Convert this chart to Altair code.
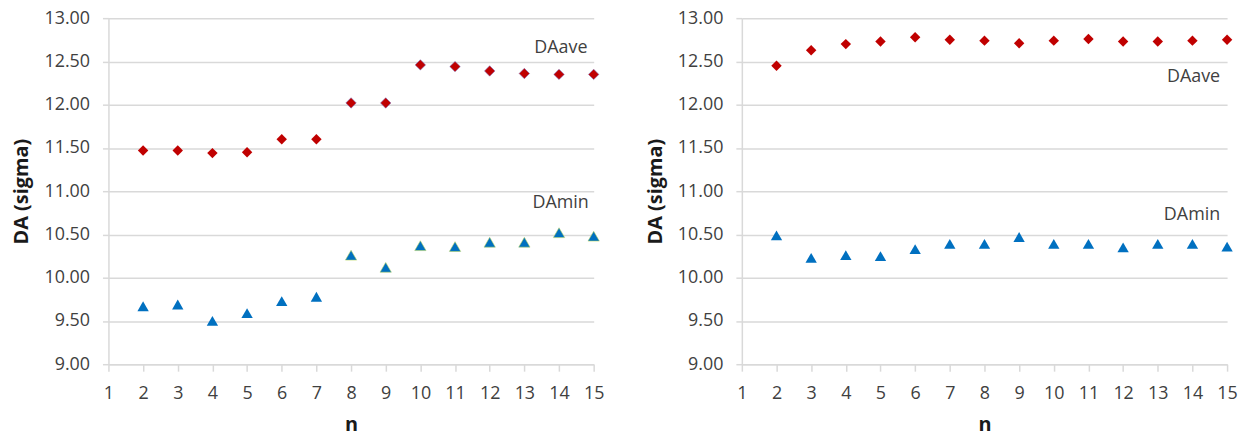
import altair as alt
import pandas as pd

n_vals = list(range(2, 16))
series_names = ["DAave", "DAmin"]

left_ave = [11.47, 11.47, 11.44, 11.45, 11.60, 11.60, 12.02, 12.02, 12.46, 12.44, 12.39, 12.36, 12.35, 12.35]
left_min = [9.67, 9.69, 9.50, 9.59, 9.73, 9.78, 10.26, 10.12, 10.37, 10.36, 10.41, 10.41, 10.52, 10.48]
right_ave = [12.45, 12.63, 12.70, 12.73, 12.78, 12.75, 12.74, 12.71, 12.74, 12.76, 12.73, 12.73, 12.74, 12.75]
right_min = [10.49, 10.23, 10.26, 10.25, 10.33, 10.39, 10.39, 10.47, 10.39, 10.39, 10.35, 10.39, 10.39, 10.36]

# markers that show a thin coloured rim in the reference (left panel, n >= 8)
left_rim = [False] * 6 + [True] * 8
right_rim = [False] * 14

left_label_n = [14.82, 14.86]
left_label_y = [12.66, 10.86]
right_label_n = [14.8, 14.8]
right_label_y = [12.32, 10.72]

x_ticks = list(range(1, 16))
y_ticks = [9.0, 9.5, 10.0, 10.5, 11.0, 11.5, 12.0, 12.5, 13.0]

FONT = "Open Sans"
GRID = "#d9d9d9"


def panel(ave, mn, rim, lab_n, lab_y):
    df = pd.DataFrame({
        "n": n_vals + n_vals,
        "value": ave + mn,
        "series": [series_names[0]] * len(n_vals) + [series_names[1]] * len(n_vals),
        "rim": rim + rim,
    })
    labels = pd.DataFrame({"n": lab_n, "value": lab_y, "text": series_names})

    x = alt.X("n:Q",
              scale=alt.Scale(domain=[1, 15], nice=False, zero=False),
              axis=alt.Axis(values=x_ticks, title="n", grid=False, format="d",
                            labelOverlap=False, labelFlush=False,
                            domainColor=GRID, domainWidth=1.5,
                            tickColor=GRID, tickWidth=1.5, tickSize=7,
                            labelPadding=14, titlePadding=12,
                            labelFont=FONT, labelFontSize=18, labelColor="#404040",
                            titleFont=FONT, titleFontSize=20, titleFontWeight="bold",
                            titleColor="#1a1a1a"))
    y = alt.Y("value:Q",
              scale=alt.Scale(domain=[9, 13], nice=False, zero=False),
              axis=alt.Axis(values=y_ticks, format=".2f", title="DA (sigma)",
                            labelOverlap=False,
                            grid=True, gridColor=GRID, gridWidth=1.5,
                            domainColor=GRID, domainWidth=1.5,
                            tickColor=GRID, tickWidth=1.5, tickSize=6,
                            labelPadding=13, titlePadding=12,
                            labelFont=FONT, labelFontSize=18, labelColor="#404040",
                            titleFont=FONT, titleFontSize=20, titleFontWeight="bold",
                            titleColor="#1a1a1a"))

    shape = alt.Shape("series:N", scale=alt.Scale(domain=series_names, range=["diamond", "triangle-up"]), legend=None)
    size = alt.Size("series:N", scale=alt.Scale(domain=series_names, range=[110, 130]), legend=None)

    base = alt.Chart(df).encode(shape=shape, size=size)
    pts = base.mark_point(filled=True, opacity=1).encode(
        color=alt.Color("series:N", scale=alt.Scale(domain=series_names, range=["#c00000", "#0070c0"]), legend=None),
    )
    rims = base.transform_filter("datum.rim").mark_point(filled=False, opacity=0.55, strokeWidth=1).encode(
        color=alt.Color("series:N", scale=alt.Scale(domain=series_names, range=["#7a6ab8", "#b8d65a"]), legend=None),
    )
    txt = alt.Chart(labels).mark_text(align="right", baseline="middle", font=FONT, fontSize=18, color="#404040").encode(
        text="text:N"
    )
    return alt.layer(pts, rims, txt).encode(x=x, y=y).resolve_scale(color="independent").properties(width=488, height=348)


left = panel(left_ave, left_min, left_rim, left_label_n, left_label_y)
right = panel(right_ave, right_min, right_rim, right_label_n, right_label_y)

chart = alt.hconcat(left, right, spacing=149, bounds="flush").properties(
    padding={"left": 4, "top": 0, "right": 5, "bottom": 2}
).configure_view(strokeWidth=0).configure_axis(labelOverlap=False)

chart.save("out.html", embed_options={"renderer": "svg", "actions": False})
